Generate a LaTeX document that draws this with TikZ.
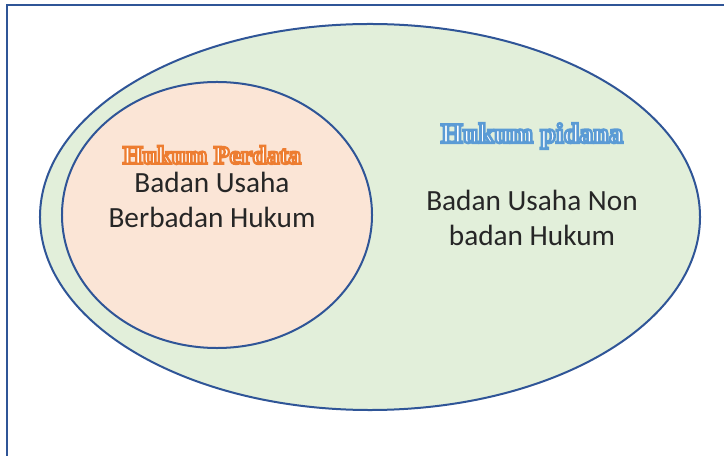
\documentclass[tikz,border=0pt]{standalone}
\usepackage{fontspec}
\setmainfont{Carlito}
\newfontface\titlefont[FakeBold=9]{Liberation Serif Bold}
\usepackage{xcolor}
\usepackage{tikz}
\usetikzlibrary{shapes.geometric, positioning}

\definecolor{rim}{HTML}{2F5597}
\definecolor{setgreen}{HTML}{E2EFDA}
\definecolor{setpeach}{HTML}{FBE5D6}
\definecolor{txtdark}{HTML}{262626}

% outlined title: white fill, coloured stroke
\newcommand\hollow[2]{\special{pdf:bcolor [1 1 1] [#1]}#2\special{pdf:ecolor}}

\begin{document}
\begin{tikzpicture}[
  x=0.03cm, y=-0.03cm,
  setbox/.style={
    ellipse, draw=rim, line width=0.06cm, inner sep=0pt
  },
  body/.style={
    align=center, text=txtdark, font=\fontsize{25}{30.6}\selectfont
  },
  ttl/.style={
    font=\titlefont\fontsize{#1}{#1}\selectfont
  }
]

% ── Marco ─────────────────────────────────────────────────────
\useasboundingbox (0,0) rectangle (724,456);
\draw[rim, line width=0.06cm] (7,470) -- (7,5) -- (740,5);

% ── Conjuntos ─────────────────────────────────────────────────
\node[setbox, fill=setgreen, minimum width=19.8cm, minimum height=11.58cm]
  (outer) at (370,217) {};
\node[setbox, fill=setpeach, minimum width=9.3cm, minimum height=7.98cm]
  (inner) at (217,215) {};

% ── Títulos ───────────────────────────────────────────────────
\node[ttl=22] (perdata) at (212,155)
  {\hollow{0.929 0.490 0.192}{Hukum Perdata}};
\node[ttl=24] (pidana) at (532,136)
  {\hollow{0.357 0.608 0.835}{Hukum pidana}};

% ── Textos ────────────────────────────────────────────────────
\node[body] (berbadan) at (212,200) {Badan Usaha\\Berbadan Hukum};
\node[body] (nonbadan) at (532,218) {Badan Usaha Non\\badan Hukum};

\end{tikzpicture}
\end{document}
